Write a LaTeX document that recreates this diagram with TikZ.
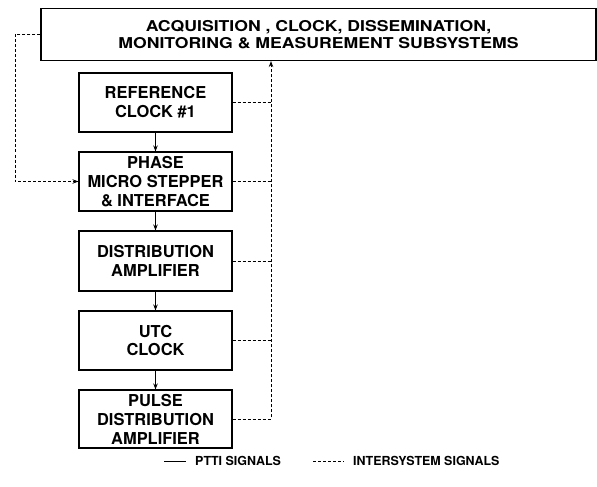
\documentclass[tikz,border=0pt]{standalone}
\usepackage{fontspec}
\setmainfont{TeX Gyre Heros}
\usetikzlibrary{arrows.meta}
\newcommand{\wide}[1]{\scalebox{1.18}[1]{#1}}
\begin{document}
\begin{tikzpicture}[x=1bp,y=-1bp,
  blk/.style={draw, line width=1.1bp, minimum width=153bp, inner sep=0pt,
    align=center, font=\fontsize{16.5}{19}\selectfont\bfseries},
  topblk/.style={draw, line width=1.1bp, minimum width=555bp, minimum height=52bp,
    inner sep=0pt, align=center, font=\fontsize{15}{17.3}\selectfont\bfseries},
  tip/.style={-{Stealth[length=6bp,width=4.5bp]}},
  ptti/.style={line width=1bp},
  inter/.style={line width=0.9bp, dash pattern=on 3bp off 2bp},
  legtext/.style={anchor=west, inner sep=0pt, font=\fontsize{12.5}{14}\selectfont\bfseries}]
\useasboundingbox (0,0) rectangle (597,487);

% subsystem block across the top
\node[topblk] (acq) at (318.5,34.5)
  {\wide{ACQUISITION , CLOCK, DISSEMINATION,}\\\wide{MONITORING \& MEASUREMENT SUBSYSTEMS}};

% signal chain
\node[blk, minimum height=59bp] (ref)   at (155.5,102.5) {REFERENCE\\CLOCK \#1};
\node[blk, minimum height=59bp] (phase) at (155.5,181.5) {PHASE\\MICRO STEPPER\\\& INTERFACE};
\node[blk, minimum height=60bp] (dist)  at (155.5,261)   {DISTRIBUTION\\AMPLIFIER};
\node[blk, minimum height=59bp] (utc)   at (155.5,340.5) {UTC\\CLOCK};
\node[blk, minimum height=58bp] (pulse) at (155.5,419)   {PULSE\\DISTRIBUTION\\AMPLIFIER};

% PTTI signal path
\draw[ptti,tip] (ref)   -- (phase);
\draw[ptti,tip] (phase) -- (dist);
\draw[ptti,tip] (dist)  -- (utc);
\draw[ptti,tip] (utc)   -- (pulse);

% intersystem bus on the right
\coordinate (bus) at (271,419);
\draw[inter] (ref.east)   -- (ref.east -| bus);
\draw[inter] (phase.east) -- (phase.east -| bus);
\draw[inter] (dist.east)  -- (dist.east -| bus);
\draw[inter] (utc.east)   -- (utc.east -| bus);
\draw[inter,tip] (pulse.east) -- (bus) -- (bus |- acq.south);

% feedback from the subsystems to the micro stepper
\draw[inter,tip] (acq.west) -- ++(-25,0) |- (phase.west);

% legend
\node[legtext] (lgp) at (195,461) {PTTI SIGNALS};
\node[legtext] (lgi) at (353,461) {INTERSYSTEM SIGNALS};
\coordinate (lgps) at (164,461);
\coordinate (lgis) at (313,461);
\draw[ptti] (lgps) -- ([xshift=-9bp]lgp.west);
\draw[inter] (lgis) -- ([xshift=-9bp]lgi.west);
\end{tikzpicture}
\end{document}
